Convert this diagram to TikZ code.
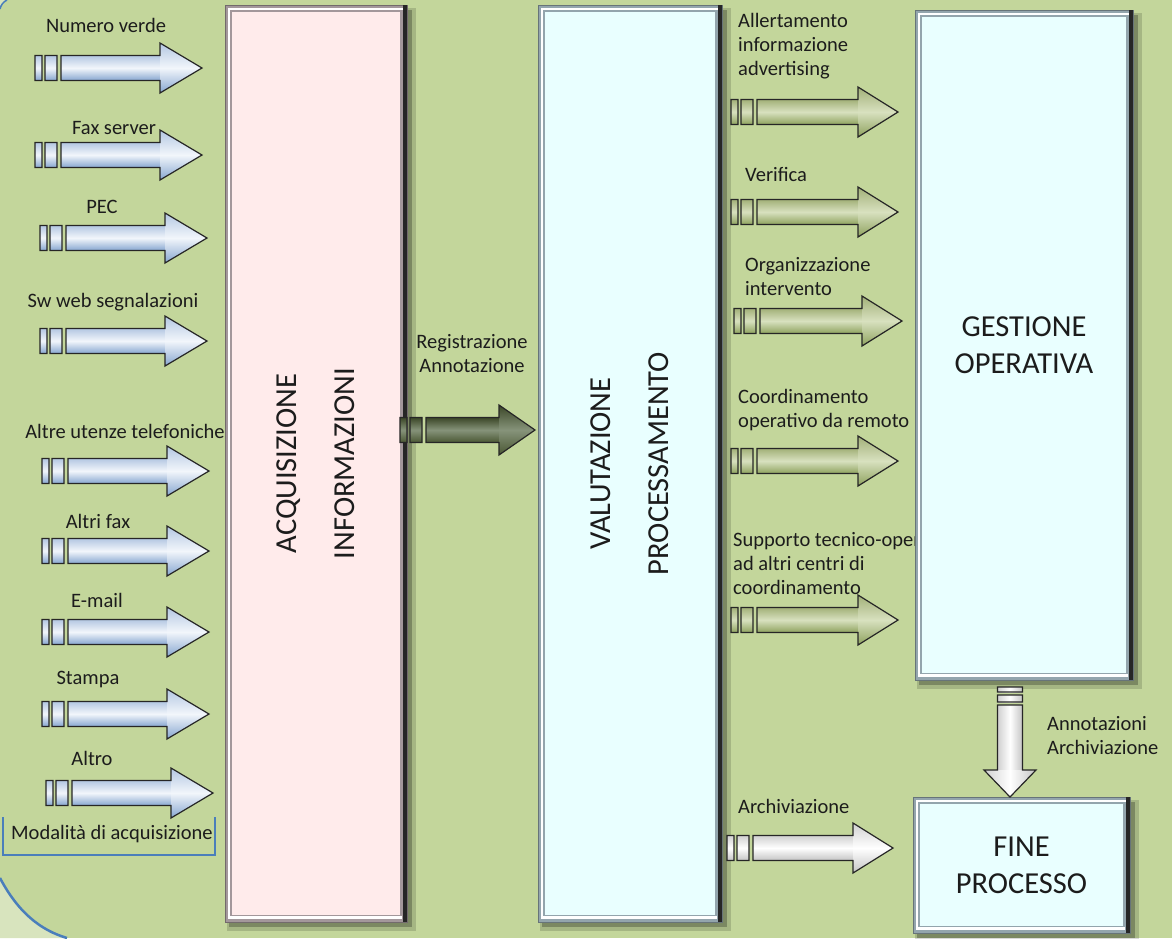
\documentclass[tikz,border=0pt]{standalone}
\usepackage{fontspec}
\setmainfont{Carlito}
\definecolor{bggreen}{HTML}{C3D69B}
\definecolor{bglight}{HTML}{D8E4BE}
\definecolor{edgeblue}{HTML}{4A7EBB}
\definecolor{pinkface}{HTML}{FFEBEB}
\definecolor{pinkframe}{HTML}{A3979B}
\definecolor{cyanface}{HTML}{E9FFFF}
\definecolor{cyanframe}{HTML}{93A5AD}
\definecolor{txt}{HTML}{1C1C1C}
\definecolor{outl}{HTML}{262626}
\definecolor{bA}{HTML}{B3C7E2}
\definecolor{bB}{HTML}{F2F6FB}
\definecolor{bC}{HTML}{86A6D0}
\definecolor{oA}{HTML}{A2B078}
\definecolor{oB}{HTML}{D8E1BF}
\definecolor{oC}{HTML}{8EA25E}
\definecolor{dA}{HTML}{3B4727}
\definecolor{dB}{HTML}{86937A}
\definecolor{dC}{HTML}{4A5733}
\definecolor{wA}{HTML}{D0D0D0}
\definecolor{wB}{HTML}{FFFFFF}
\definecolor{wC}{HTML}{C4C4C4}
\tikzset{
  lbl/.style={font=\fontsize{20.5}{24}\selectfont, text=txt, inner sep=0pt},
  big/.style={font=\fontsize{30.5}{37}\selectfont, text=txt, inner sep=0pt, align=center},
  rot/.style={font=\fontsize{30.5}{58}\selectfont, text=txt, inner sep=0pt, align=center, rotate=90},
  bluesh/.style={top color=bA, bottom color=bC, middle color=bB},
  olivesh/.style={top color=oA, bottom color=oC, middle color=oB},
  darksh/.style={top color=dA, bottom color=dC, middle color=dB},
  whitesh/.style={top color=wA, bottom color=wC, middle color=wB},
  vwhitesh/.style={left color=wA, right color=wC, middle color=wB},
  arrline/.style={draw=outl, line width=1.2pt, line join=miter},
}
% #1 name, #2 x start, #3 y, #4 tip x, #5 shading, #6 head length
\newcommand{\harr}[6]{%
  \coordinate (#1-s) at (#2,#3);
  \coordinate (#1) at (#4,#3);
  \shade[#5] (#2,#3-12.5) rectangle (#2+7,#3+12.5);
  \shade[#5] (#2+10,#3-12.5) rectangle (#2+22,#3+12.5);
  \shade[#5] (#2+26,#3-12.5) rectangle (#4-#6,#3+12.5);
  \shade[#5] (#4-#6,#3-25) -- (#4,#3) -- (#4-#6,#3+25) -- cycle;
  \draw[arrline] (#2,#3-12.5) rectangle (#2+7,#3+12.5)
    (#2+10,#3-12.5) rectangle (#2+22,#3+12.5)
    (#2+26,#3-12.5) -- (#4-#6,#3-12.5) -- (#4-#6,#3-25) -- (#4,#3)
    -- (#4-#6,#3+25) -- (#4-#6,#3+12.5) -- (#2+26,#3+12.5) -- cycle;
}
% #1 name, #2 x1, #3 y1, #4 x2, #5 y2, #6 face, #7 frame
\newcommand{\bevelbox}[7]{%
  \fill[black, opacity=.15] (#2+2,#3+3) rectangle (#4+9,#5+9);
  \fill[black, opacity=.25] (#2+4,#3+5) rectangle (#4+5,#5+5);
  \fill[#7] (#2,#3) rectangle (#4,#5);
  \fill[#6] (#2+7,#3+7) rectangle (#4-7,#5-7);
  \draw[white, line width=2pt] (#2+3.5,#5-3.5) -- (#2+3.5,#3+3.5) -- (#4-3.5,#3+3.5);
  \draw[white, line width=3.5pt] (#2+5,#5-4.5) -- (#4-5,#5-4.5);
  \draw[#7!70!black, line width=1pt] (#2,#3) rectangle (#4,#5);
  \draw[black!85, line width=4pt] (#4-2,#3) -- (#4-2,#5);
  \node[inner sep=0pt, outer sep=0pt, minimum width={(#4-#2)*1pt}, minimum height={(#5-#3)*1pt}] (#1) at ({(#2+#4)/2},{(#3+#5)/2}) {};
}
\begin{document}
\begin{tikzpicture}[x=1pt, y=-1pt]
\useasboundingbox (0,0) rectangle (1172,938);
% background
\fill[bggreen] (0,0) rectangle (1172,938);
\fill[bglight] (0,878) .. controls (18,912) and (40,930) .. (67,938) -- (0,938) -- cycle;
\draw[edgeblue, line width=2.5pt] (0,878) .. controls (18,912) and (40,930) .. (67,938);
\fill[bglight] (0,0) -- (7,0) .. controls (3,2) and (1,5) .. (0,9) -- cycle;
\draw[edgeblue, line width=1.5pt] (7,0) .. controls (3,2) and (1,5) .. (0,9);

% label that the GESTIONE box cuts off
\node[lbl, anchor=west, align=left] (l5) at (733,564) {Supporto tecnico-oper\\ad altri centri di\\coordinamento};

% boxes
\bevelbox{acq}{225}{5}{407}{922}{pinkface}{pinkframe}
\bevelbox{val}{538}{5}{722}{922}{cyanface}{cyanframe}
\bevelbox{gest}{915}{10}{1133}{680}{cyanface}{cyanframe}
\bevelbox{fine}{913}{797}{1130}{933}{cyanface}{cyanframe}

\node[rot] (acqt) at (acq.center) {ACQUISIZIONE\\INFORMAZIONI};
\node[rot] (valt) at (val.center) {VALUTAZIONE\\PROCESSAMENTO};
\node[big] (gestt) at (gest.center) {GESTIONE\\OPERATIVA};
\node[big] (finet) at (fine.center) {FINE\\PROCESSO};

% left input arrows
\harr{a1}{35}{68}{202}{bluesh}{42}
\harr{a2}{35}{155}{202}{bluesh}{42}
\harr{a3}{40}{238}{207}{bluesh}{42}
\harr{a4}{40}{341}{207}{bluesh}{42}
\harr{a5}{42}{471}{209}{bluesh}{42}
\harr{a6}{42}{551}{209}{bluesh}{42}
\harr{a7}{42}{632}{209}{bluesh}{42}
\harr{a8}{42}{714}{209}{bluesh}{42}
\harr{a9}{46}{793}{213}{bluesh}{42}

\node[lbl] (t1) at (106,25) {Numero verde};
\node[lbl] (t2) at (114,128) {Fax server};
\node[lbl] (t3) at (102,207) {PEC};
\node[lbl] (t4) at (113,302) {Sw web segnalazioni};
\node[lbl] (t5) at (125,431) {Altre utenze telefoniche};
\node[lbl] (t6) at (98,521) {Altri fax};
\node[lbl] (t7) at (97,600) {E-mail};
\node[lbl] (t8) at (88,679) {Stampa};
\node[lbl] (t9) at (92,758) {Altro};
\node[lbl] (t10) at (112,834) {Modalità di acquisizione};
\draw[edgeblue, line width=1.2pt] (3,817) -- (3,855) -- (215,855) -- (215,817);

% middle arrow
\harr{am}{400}{430}{535}{darksh}{36}
\node[lbl, align=center] (tm) at (472,354) {Registrazione\\Annotazione};

% right arrows
\harr{r1}{731}{112}{898}{olivesh}{40}
\harr{r2}{731}{212}{898}{olivesh}{40}
\harr{r3}{734}{321}{902}{olivesh}{40}
\harr{r4}{731}{461}{898}{olivesh}{40}
\harr{r5}{731}{620}{898}{olivesh}{40}
\harr{r6}{727}{848}{893}{whitesh}{40}

\node[lbl, anchor=west, align=left] (l1) at (738,46) {Allertamento\\informazione\\advertising};
\node[lbl, anchor=west] (l2) at (745,174) {Verifica};
\node[lbl, anchor=west, align=left] (l3) at (745,277) {Organizzazione\\intervento};
\node[lbl, anchor=west, align=left] (l4) at (738,410) {Coordinamento\\operativo da remoto};
\node[lbl, anchor=west] (l6) at (738,806) {Archiviazione};

% vertical arrow GESTIONE -> FINE
\shade[vwhitesh] (997.5,687) rectangle (1022.5,692);
\shade[vwhitesh] (997.5,695) rectangle (1022.5,702);
\shade[vwhitesh] (997.5,705) rectangle (1022.5,770);
\shade[vwhitesh] (984,770) -- (1010,797) -- (1036,770) -- cycle;
\draw[arrline] (997.5,687) rectangle (1022.5,692) (997.5,695) rectangle (1022.5,702)
  (997.5,705) -- (997.5,770) -- (984,770) -- (1010,797) -- (1036,770) -- (1022.5,770) -- (1022.5,705) -- cycle;
\node[lbl, anchor=west, align=left] (lv) at (1047,736) {Annotazioni\\Archiviazione};
\end{tikzpicture}
\end{document}
